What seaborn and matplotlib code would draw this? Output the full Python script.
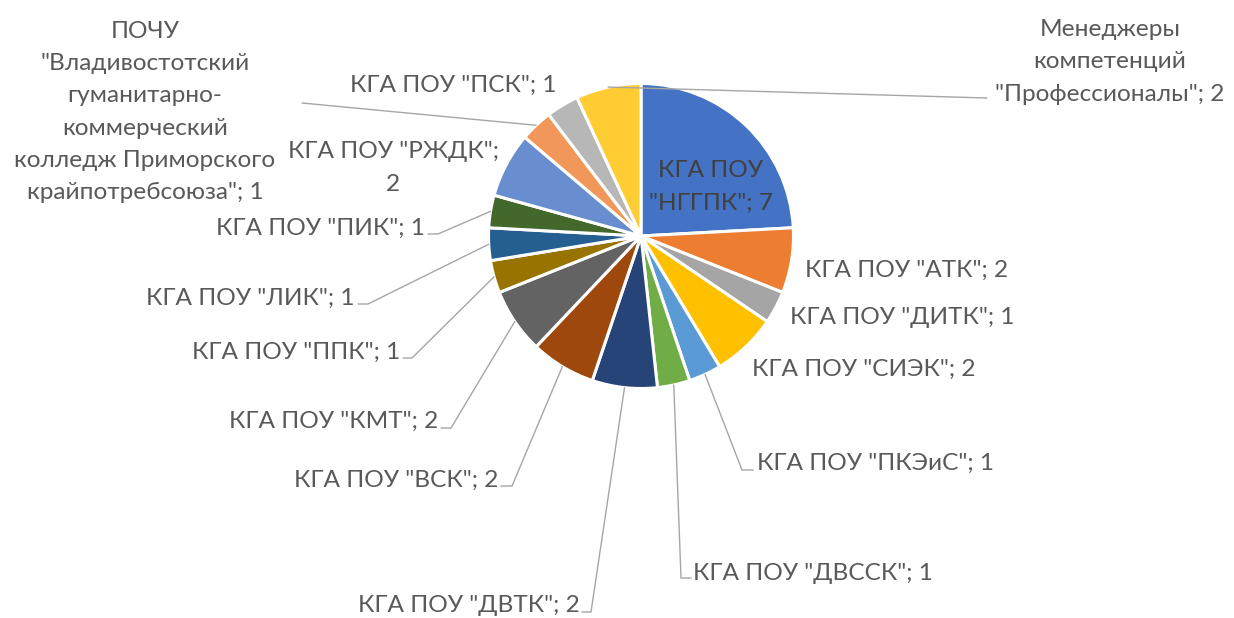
import numpy as np
import matplotlib.pyplot as plt
import seaborn as sns

# data
colleges = ['КГА ПОУ\n"НГГПК"', 'КГА ПОУ "АТК"', 'КГА ПОУ "ДИТК"', 'КГА ПОУ "СИЭК"',
            'КГА ПОУ "ПКЭиС"', 'КГА ПОУ "ДВССК"', 'КГА ПОУ "ДВТК"', 'КГА ПОУ "ВСК"',
            'КГА ПОУ "КМТ"', 'КГА ПОУ "ППК"', 'КГА ПОУ "ЛИК"', 'КГА ПОУ "ПИК"',
            'КГА ПОУ "РЖДК"',
            'ПОЧУ\n"Владивостотский\nгуманитарно-\nкоммерческий\nколледж Приморского\nкрайпотребсоюза"',
            'КГА ПОУ "ПСК"', 'Менеджеры\nкомпетенций\n"Профессионалы"']
counts = [7, 2, 1, 2, 1, 1, 2, 2, 2, 1, 1, 1, 2, 1, 1, 2]
colors = ['#4472C4', '#ED7D31', '#A5A5A5', '#FFC000', '#5B9BD5', '#70AD47',
          '#264478', '#9E480E', '#636363', '#997300', '#255E91', '#43682B',
          '#698ED0', '#F1975A', '#B7B7B7', '#FFCD33']

W, H = 1234, 618
CX, CY, R = 641, 236, 152.5  # pie centre / radius in pixels (y down)

# label layout in pixels: x, y, ha, elbow, tick end x
layout = [
    (711, 187, 'center', None, None),
    (805, 270, 'left', None, None),
    (790, 317, 'left', None, None),
    (752, 369, 'left', None, None),
    (757, 463, 'left', (742, 470), 753),
    (693, 573, 'left', (681, 578), 691),
    (580, 606, 'right', (591, 612), 582),
    (498, 480, 'right', (512, 486), 501),
    (438, 421, 'right', (451, 428), 441),
    (400, 352, 'right', (412, 358), 403),
    (355, 298, 'right', (368, 304), 358),
    (425, 228, 'right', (438, 234), 428),
    (393, 168, 'center', None, None),
    (145, 112, 'center', (302, 103), None),
    (453, 85, 'center', None, None),
    (1110, 62, 'center', (987, 98), None),
]
value_on_new_line = {12}

sns.set_theme(style='white')
plt.rcParams['font.family'] = ['Lato', 'DejaVu Sans']

fig = plt.figure(figsize=(W / 100, H / 100), dpi=100)
ax = fig.add_axes([0, 0, 1, 1])

ax.pie(counts, colors=colors, startangle=90, counterclock=False,
       center=(CX, H - CY), radius=R,
       wedgeprops=dict(edgecolor='white', linewidth=2.2))
ax.set_xlim(0, W)
ax.set_ylim(0, H)
ax.set_aspect('equal')
ax.axis('off')

total = sum(counts)
cum = np.cumsum([0] + counts[:-1])
for i, (name, v) in enumerate(zip(colleges, counts)):
    sep = '\n' if i in value_on_new_line else ' '
    label = f'{name};{sep}{v}'
    tx, ty, ha, elbow, hx = layout[i]
    color = '#404040' if i == 0 else '#595959'
    ax.text(tx, H - ty, label, ha=ha, va='center', fontsize=17.6, color=color,
            multialignment='center', linespacing=1.66)
    if elbow is not None:
        ang = np.deg2rad(90 - 360 * (cum[i] + v / 2) / total)
        ax_, ay_ = CX + R * np.cos(ang), (H - CY) + R * np.sin(ang)
        xs = [ax_, elbow[0]]
        ys = [ay_, H - elbow[1]]
        if hx is not None:
            xs.append(hx)
            ys.append(H - elbow[1])
        ax.plot(xs, ys, color='#A6A6A6', lw=1)

plt.savefig('out.png', dpi=100)
